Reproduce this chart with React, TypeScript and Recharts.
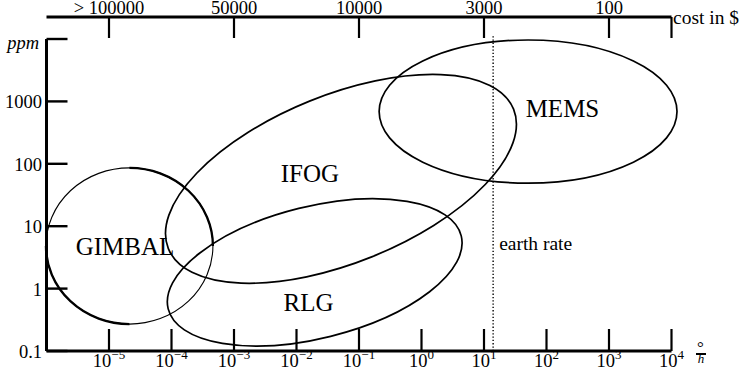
import { ComposedChart, XAxis, YAxis, Scatter, ReferenceArea, ReferenceLine } from 'recharts';

const FONT = "'Liberation Serif', 'DejaVu Serif', serif";

// technologies: unrotated ellipse extent (drift in deg/h, scale factor in ppm) + tilt
const techNames = ['GIMBAL', 'IFOG', 'RLG', 'MEMS'];
const rateFrom = [0.98e-6, 5.4e-5, 7.5e-5, 0.21];
const rateTo = [4.6e-4, 49, 5.1, 12250];
const ppmFrom = [0.27, 2.6, 0.16, 49];
const ppmTo = [86, 1265, 20.7, 9640];
const tilt = [0, 22, 14, 0];

// where the names sit
const labelRate = [1.8e-5, 0.0164, 0.0156, 180];
const labelPpm = [4.8, 69, 0.59, 780];

// axes
const rateTicks = [1e-5, 1e-4, 1e-3, 1e-2, 1e-1, 1, 10, 100, 1000, 10000];
const ppmTicks = [0.1, 1, 10, 100, 1000, 10000];
const ppmLabels = ['0.1', '1', '10', '100', '1000', 'ppm'];
const costTicks = [1e-5, 1e-3, 1e-1, 10, 1000, 10000];
const costLabels = ['> 100000', '50000', '10000', '3000', '100', ''];

const earthRate = 14;
const earthRateTop = 11500;
const earthLabelPpm = 5.2;

const labels = techNames.map((name, i) => ({ name, rate: labelRate[i], ppm: labelPpm[i] }));
const earthLabel = [{ name: 'earth rate', rate: earthRate, ppm: earthLabelPpm }];

const txt = (size: number, italic = false) => ({
  fontFamily: FONT,
  fontSize: size,
  fontStyle: italic ? 'italic' : 'normal',
  fill: '#000',
});

function TechEllipse(props: any) {
  const { x, y, width, height, angle, pen } = props;
  const cx = x + width / 2;
  const cy = y + height / 2;
  const rx = width / 2;
  const ry = height / 2;
  if (pen) {
    // gimbal circle is drawn with a broad nib: thin and thick quarters
    return (
      <g>
        <ellipse cx={cx} cy={cy} rx={rx} ry={ry} fill="none" stroke="#000" strokeWidth={1.1} />
        <ellipse
          cx={cx}
          cy={cy}
          rx={rx}
          ry={ry}
          fill="none"
          stroke="#000"
          strokeWidth={2.3}
          pathLength={100}
          strokeDasharray="0 25 25 25 25"
        />
      </g>
    );
  }
  return (
    <ellipse
      cx={cx}
      cy={cy}
      rx={rx}
      ry={ry}
      fill="none"
      stroke="#000"
      strokeWidth={1.7}
      transform={`rotate(${-angle} ${cx} ${cy})`}
    />
  );
}

function TechLabel({ cx, cy, payload }: any) {
  return (
    <text x={cx} y={cy + 8.5} textAnchor="middle" style={txt(25)}>
      {payload.name}
    </text>
  );
}

function EarthLabel({ cx, cy, payload }: any) {
  return (
    <text x={cx + 6} y={cy + 6} textAnchor="start" style={txt(19.5)}>
      {payload.name}
    </text>
  );
}

function RateTick({ x, y, payload, index }: any) {
  const exp = Math.round(Math.log10(payload.value));
  const last = index === rateTicks.length - 1;
  return (
    <g>
      <line x1={x} y1={y} x2={x} y2={y - 22} stroke="#000" strokeWidth={2.2} />
      <text x={x} y={y + 16} textAnchor="middle" style={txt(18.5)}>
        10
        <tspan dy={-8} style={{ fontSize: 13 }}>
          {exp < 0 ? `\u2212${-exp}` : `${exp}`}
        </tspan>
      </text>
      {last && (
        <g>
          <text x={x + 29} y={y + 1.5} textAnchor="middle" style={txt(17)}>
            °
          </text>
          <line x1={x + 24.5} y1={y + 3} x2={x + 34.5} y2={y + 3} stroke="#000" strokeWidth={2} />
          <text x={x + 29.5} y={y + 11.5} textAnchor="middle" style={txt(13, true)}>
            h
          </text>
        </g>
      )}
    </g>
  );
}

function CostTick({ x, y, index }: any) {
  const last = index === costTicks.length - 1;
  return (
    <g>
      <line x1={x} y1={y} x2={x} y2={y + 21} stroke="#000" strokeWidth={2.2} />
      {costLabels[index] && (
        <text x={x} y={y - 3.5} textAnchor="middle" style={txt(18.5)}>
          {costLabels[index]}
        </text>
      )}
      {last && (
        <text x={x + 1.5} y={y + 6.5} textAnchor="start" style={txt(19.5)}>
          cost in $
        </text>
      )}
    </g>
  );
}

function PpmTick({ x, y, index }: any) {
  const unit = index === ppmTicks.length - 1;
  return (
    <g>
      <line x1={x} y1={y} x2={x + 21} y2={y} stroke="#000" strokeWidth={2.4} />
      <text x={x - (unit ? 7.5 : 4.5)} y={y + (unit ? 10 : 7)} textAnchor="end" style={txt(18.5, unit)}>
        {ppmLabels[index]}
      </text>
    </g>
  );
}

export default function App() {
  return (
    <div style={{ position: 'absolute', left: 0, top: 0, width: 742, height: 376, background: '#fff' }}>
      <ComposedChart width={742} height={376} margin={{ top: 0, right: 70.5, bottom: 0, left: 0 }}>
        <XAxis
          xAxisId="top"
          orientation="top"
          dataKey="rate"
          type="number"
          scale="log"
          domain={[1e-6, 1e4]}
          allowDataOverflow
          ticks={costTicks}
          interval={0}
          height={17}
          tickSize={0}
          tickMargin={0}
          tickLine={false}
          axisLine={{ stroke: '#000', strokeWidth: 3 }}
          tick={<CostTick />}
        />
        <XAxis
          xAxisId="bottom"
          dataKey="rate"
          type="number"
          scale="log"
          domain={[1e-6, 1e4]}
          allowDataOverflow
          ticks={rateTicks}
          interval={0}
          height={25}
          tickSize={0}
          tickMargin={0}
          tickLine={false}
          axisLine={{ stroke: '#000', strokeWidth: 3 }}
          tick={<RateTick />}
        />
        <YAxis
          dataKey="ppm"
          type="number"
          scale="log"
          domain={[0.1, 1e4]}
          allowDataOverflow
          ticks={ppmTicks}
          interval={0}
          width={46.5}
          padding={{ top: 22, bottom: 0 }}
          tickSize={0}
          tickMargin={0}
          tickLine={false}
          axisLine={false}
          tick={<PpmTick />}
        />
        {techNames.map((name, i) => (
          <ReferenceArea
            key={name}
            xAxisId="bottom"
            x1={rateFrom[i]}
            x2={rateTo[i]}
            y1={ppmFrom[i]}
            y2={ppmTo[i]}
            ifOverflow="visible"
            shape={(p: any) => <TechEllipse {...p} angle={tilt[i]} pen={i === 0} />}
          />
        ))}
        <ReferenceLine
          xAxisId="bottom"
          segment={[
            { x: earthRate, y: 0.1 },
            { x: earthRate, y: earthRateTop },
          ]}
          ifOverflow="visible"
          stroke="#000"
          strokeWidth={1.4}
          strokeDasharray="1.3 2"
        />
        <ReferenceLine
          xAxisId="bottom"
          segment={[
            { x: 1e-6, y: 0.1 },
            { x: 1e-6, y: 1e4 },
          ]}
          ifOverflow="visible"
          stroke="#000"
          strokeWidth={3}
        />
        <Scatter xAxisId="bottom" data={labels} shape={<TechLabel />} isAnimationActive={false} />
        <Scatter xAxisId="bottom" data={earthLabel} shape={<EarthLabel />} isAnimationActive={false} />
      </ComposedChart>
    </div>
  );
}
